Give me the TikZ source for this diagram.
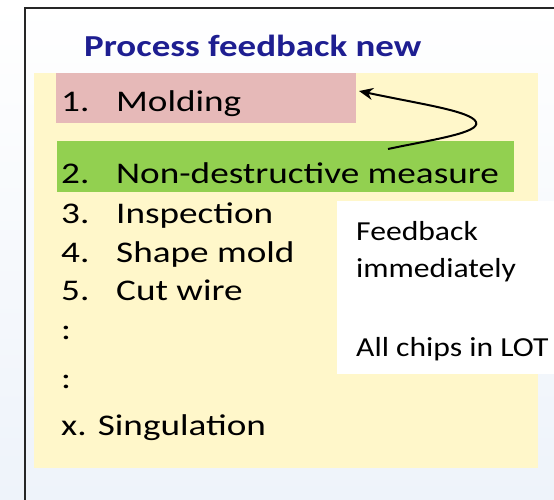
\documentclass[tikz,border=0pt]{standalone}
\usepackage{fontspec}
\setmainfont{Carlito}[FakeStretch=1.24]
\newfontfamily\notefont{Carlito}[FakeStretch=1.15]
\newfontfamily\titlefont{Carlito}[FakeStretch=1.21]
\usetikzlibrary{arrows.meta}
\definecolor{titleblue}{RGB}{30,30,145}
\definecolor{paleyellow}{RGB}{255,247,202}
\definecolor{pinkfill}{RGB}{230,185,184}
\definecolor{greenfill}{RGB}{146,208,80}
\definecolor{bgblue}{RGB}{238,243,250}
\begin{document}
\begin{tikzpicture}[x=1pt,y=-1pt,
  listitem/.style={anchor=base west, inner sep=0pt, font=\fontsize{30}{36}\selectfont},
  notetext/.style={anchor=base west, inner sep=0pt, font=\notefont\fontsize{27.5}{32}\selectfont},
  titletext/.style={anchor=base west, inner sep=0pt, text=titleblue, font=\titlefont\fontsize{30.5}{37}\selectfont\bfseries},
  feedarrow/.style={line width=2pt, -{Stealth[length=14pt,width=12pt]}}]
\useasboundingbox (0,0) rectangle (554,500);
\shade[top color=white, bottom color=bgblue] (0,0) rectangle (554,500);
\draw[line width=2.5pt, black!85] (25,501) -- (25,8) -- (555,8);
% panels
\fill[paleyellow] (34,73) rectangle (538,468);
\fill[pinkfill] (56,73) rectangle (356,123);
\fill[greenfill] (57,141) rectangle (514,192);
\fill[white] (337,201) rectangle (554,374);
% title
\node[titletext] (title) at (84,57) {Process feedback new};
% list
\newcommand{\numbox}[1]{\makebox[55pt][l]{#1}}
\node[listitem] (s1) at (61,112) {\numbox{1.}Molding};
\node[listitem] (s2) at (61,183) {\numbox{2.}Non-destructive measure};
\node[listitem] (s3) at (61,223) {\numbox{3.}Inspection};
\node[listitem] (s4) at (61,262) {\numbox{4.}Shape mold};
\node[listitem] (s5) at (61,300) {\numbox{5.}Cut wire};
\node[listitem] (c1) at (61,339) {:};
\node[listitem] (c2) at (61,388) {:};
\node[listitem] (sx) at (61,435) {x. Singulation};
% note
\node[notetext] (n1) at (356,240) {Feedback};
\node[notetext] (n2) at (356,277) {immediately};
\node[notetext] (n3) at (356,356) {All chips in LOT};
% feedback arrow
\coordinate (fbtail) at (388,149);
\coordinate (fbturn) at (476,122);
\coordinate (fbtip) at (359,91);
\draw[feedarrow] (fbtail) .. controls (430,140) and (481,133) .. (fbturn)
  .. controls (471,111) and (420,104) .. (fbtip);
\end{tikzpicture}
\end{document}
